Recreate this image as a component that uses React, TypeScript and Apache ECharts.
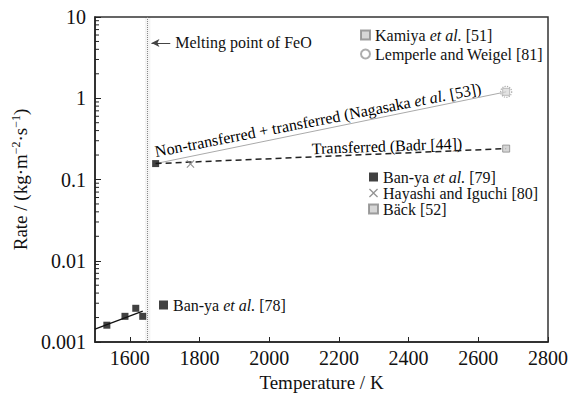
import React, { useEffect, useRef } from "react";
import * as echarts from "echarts";

const FONT = "Liberation Serif";

// Ban-ya et al. [78] (solid FeO region)
const banya78 = [[1534, 0.00161], [1586, 0.00207], [1617, 0.0026], [1637, 0.00207]];
const banya78Fit = [[1500, 0.00144], [1637, 0.0024]];
// Molten FeO region
const banya79 = [[1674, 0.157]];
const hayashi80 = [[1774, 0.155]];
const back52 = [[2680, 0.24]];
const lemperle81 = [[2680, 1.2]];
const kamiya51 = [[2680, 1.2]];
const nagasakaLine = [[1674, 0.157], [2680, 1.2]];
const badrLine = [[1674, 0.157], [2680, 0.24]];
const meltingPointT = 1651;

const xTicks = [1600, 1800, 2000, 2200, 2400, 2600, 2800];
const yMinorTicks: number[] = [];
[0.001, 0.01, 0.1, 1].forEach((d) => {
  for (let k = 2; k <= 9; k++) yMinorTicks.push(+(d * k).toPrecision(3));
});

const XSHAPE = "path://M0,1L1,0L5,4L9,0L10,1L6,5L10,9L9,10L5,6L1,10L0,9L4,5Z";

const richText = {
  n: { fontFamily: FONT, fontSize: 16, color: "#111", lineHeight: 17 },
  i: { fontFamily: FONT, fontSize: 16, color: "#111", fontStyle: "italic", lineHeight: 17 },
};

const legendNames: Record<string, string> = {
  "Kamiya et al. [51]": "{n|Kamiya }{i|et al.}{n| [51]}",
  "Lemperle and Weigel [81]": "{n|Lemperle and Weigel [81]}",
  "Ban-ya et al. [79]": "{n|Ban-ya }{i|et al.}{n| [79]}",
  "Hayashi and Iguchi [80]": "{n|Hayashi and Iguchi [80]}",
  "Bäck [52]": "{n|Bäck [52]}",
  "Ban-ya et al. [78]": "{n|Ban-ya }{i|et al.}{n| [78]}",
};

function makeLegend(data: string[], left: number, top: number, gap: number) {
  return {
    data,
    left,
    top,
    orient: "vertical",
    itemWidth: 9,
    itemHeight: 9,
    itemGap: gap,
    selectedMode: false,
    formatter: (n: string) => legendNames[n] || n,
    textStyle: { fontFamily: FONT, fontSize: 16, rich: richText, padding: [0, 0, 0, 0] },
  };
}

export default function App() {
  const ref = useRef<HTMLDivElement>(null);
  useEffect(() => {
    if (!ref.current) return;
    const chart = echarts.init(ref.current, null, { renderer: "svg" });
    const axisColor = "#222";
    chart.setOption({
      animation: false,
      backgroundColor: "#fff",
      textStyle: { fontFamily: FONT },
      grid: { left: 95, right: 22, top: 17, bottom: 53, show: true, borderColor: "#333", borderWidth: 1.5 },
      legend: [
        makeLegend(["Kamiya et al. [51]", "Lemperle and Weigel [81]"], 355, 22, 3),
        makeLegend(["Ban-ya et al. [79]", "Hayashi and Iguchi [80]", "Bäck [52]"], 363, 164, 0),
        makeLegend(["Ban-ya et al. [78]"], 154, 292, 0),
      ],
      xAxis: {
        type: "value",
        min: 1500,
        max: 2800,
        axisLine: { lineStyle: { color: axisColor, width: 1.5 } },
        axisTick: { inside: true, length: 5, customValues: xTicks, lineStyle: { color: axisColor } },
        axisLabel: {
          customValues: xTicks,
          fontSize: 20,
          color: "#111",
          margin: 6,
          fontFamily: FONT,
          formatter: (v: number) => String(v),
        },
        splitLine: { show: false },
        name: "Temperature / K",
        nameLocation: "middle",
        nameGap: 31,
        nameTextStyle: { fontSize: 19, color: "#111", fontFamily: FONT },
      },
      yAxis: {
        type: "log",
        logBase: 10,
        min: 0.001,
        max: 10,
        axisLine: { show: true, lineStyle: { color: axisColor, width: 1.5 } },
        axisTick: { inside: true, length: 6, lineStyle: { color: axisColor } },
        axisLabel: {
          fontSize: 20,
          color: "#111",
          margin: 9,
          fontFamily: FONT,
          formatter: (v: number) => String(Number(v.toPrecision(3))),
        },
        splitLine: { show: false },
        name: "Rate / (kg·m{sup|−2}·s{sup|−1})",
        nameLocation: "middle",
        nameGap: 62,
        nameTextStyle: {
          fontSize: 19,
          color: "#111",
          fontFamily: FONT,
          rich: { sup: { fontSize: 12, fontFamily: FONT, color: "#111", padding: [0, 0, 9, 0] } },
        },
      },
      series: [
        {
          type: "custom",
          data: yMinorTicks.map((v) => [1500, v]),
          silent: true,
          clip: false,
          z: 10,
          renderItem: (params: any, api: any) => {
            const p = api.coord([api.value(0), api.value(1)]);
            return {
              type: "line",
              shape: { x1: p[0], y1: p[1], x2: p[0] + 4, y2: p[1] },
              style: { stroke: axisColor, lineWidth: 1 },
            };
          },
        },
        {
          type: "line",
          data: banya78Fit,
          symbol: "none",
          lineStyle: { color: "#111", width: 1.2 },
          silent: true,
          markLine: {
            silent: true,
            symbol: "none",
            label: { show: false },
            lineStyle: { color: "#888", type: "dotted", width: 1 },
            data: [{ xAxis: meltingPointT }],
          },
          markArea: {
            silent: true,
            itemStyle: { color: "rgba(0,0,0,0.045)" },
            data: [[{ xAxis: meltingPointT - 8 }, { xAxis: meltingPointT + 8 }]],
          },
        },
        {
          type: "line",
          data: nagasakaLine,
          symbol: "none",
          lineStyle: { color: "#aaa", width: 1 },
          silent: true,
          markLine: {
            silent: true,
            symbol: ["arrow", "none"],
            symbolSize: [6, 8],
            lineStyle: { color: "#444", type: "solid", width: 1 },
            label: {
              show: true,
              position: "end",
              distance: 5,
              formatter: "Melting point of FeO",
              fontSize: 16,
              color: "#111",
              fontFamily: FONT,
            },
            data: [[{ coord: [1662, 4.8] }, { coord: [1716, 4.8] }]],
          },
        },
        {
          type: "line",
          data: badrLine,
          symbol: "none",
          lineStyle: { color: "#222", width: 1.5, type: [6, 4] },
          silent: true,
        },
        {
          name: "Kamiya et al. [51]",
          type: "scatter",
          data: kamiya51,
          symbol: "rect",
          symbolSize: 7,
          itemStyle: { color: "#ccc", borderColor: "#888", borderWidth: 1 },
          z: 2,
        },
        {
          name: "Lemperle and Weigel [81]",
          type: "scatter",
          data: lemperle81,
          symbol: "circle",
          symbolSize: 11,
          itemStyle: { color: "rgba(255,255,255,0.4)", borderColor: "#999", borderWidth: 1.2, borderType: "dotted" },
          z: 3,
        },
        {
          name: "Ban-ya et al. [79]",
          type: "scatter",
          data: banya79,
          symbol: "rect",
          symbolSize: 7,
          itemStyle: { color: "#111" },
          z: 4,
        },
        {
          name: "Hayashi and Iguchi [80]",
          type: "scatter",
          data: hayashi80,
          symbol: XSHAPE,
          symbolSize: 8,
          itemStyle: { color: "#777" },
          z: 4,
        },
        {
          name: "Bäck [52]",
          type: "scatter",
          data: back52,
          symbol: "rect",
          symbolSize: 7,
          itemStyle: { color: "#ccc", borderColor: "#888", borderWidth: 1 },
          z: 4,
        },
        {
          name: "Ban-ya et al. [78]",
          type: "scatter",
          data: banya78,
          symbol: "rect",
          symbolSize: 7,
          itemStyle: { color: "#111" },
          z: 4,
        },
      ],
      graphic: [
        {
          type: "text",
          x: 318,
          y: 120,
          rotation: (11 * Math.PI) / 180,
          silent: true,
          style: {
            text: "{n|Non-transferred + transferred (Nagasaka }{i|et al.}{n| [53])}",
            rich: richText,
            fontFamily: FONT,
            fontSize: 16,
            align: "center",
            verticalAlign: "middle",
          },
        },
        {
          type: "text",
          x: 387,
          y: 146,
          rotation: (2 * Math.PI) / 180,
          silent: true,
          style: {
            text: "{n|Transferred (Badr [44])}",
            rich: richText,
            fontFamily: FONT,
            fontSize: 16,
            align: "center",
            verticalAlign: "middle",
          },
        },
      ],
    });
    return () => chart.dispose();
  }, []);
  return (
    <div
      ref={ref}
      style={{ position: "fixed", left: 0, top: 0, width: 571, height: 397, background: "#fff" }}
    />
  );
}
